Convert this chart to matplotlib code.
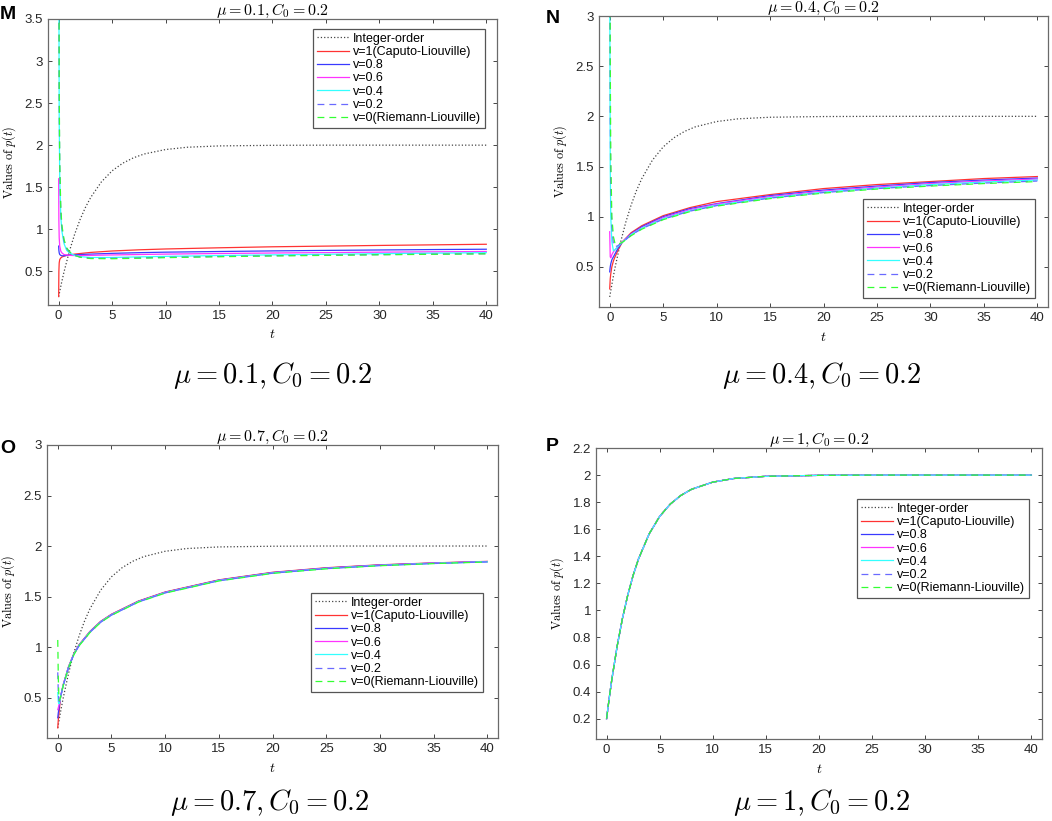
import matplotlib
matplotlib.use('Agg')
import matplotlib.pyplot as plt

plt.rcParams['font.family'] = ['Liberation Sans', 'DejaVu Sans']
plt.rcParams['mathtext.fontset'] = 'cm'

# integer-order solution (same in every panel)
t_int = [0, 0.25, 0.5, 1, 1.5, 2, 2.5, 3, 4, 5, 6, 7, 8, 10, 12, 15, 20, 25, 30, 35, 40]
p_int = [0.2, 0.353, 0.493, 0.738, 0.943, 1.115, 1.259, 1.379, 1.564, 1.695, 1.786,
         1.85, 1.895, 1.948, 1.975, 1.991, 1.998, 2.0, 2.0, 2.0, 2.0]

labels = ['Integer-order', 'v=1(Caputo-Liouville)', 'v=0.8', 'v=0.6', 'v=0.4',
          'v=0.2', 'v=0(Riemann-Liouville)']
panel_letters = ['M', 'N', 'O', 'P']
mu_values = ['0.1', '0.4', '0.7', '1']

# panel M: mu = 0.1
t_M = [0, 0.02, 0.05, 0.1, 0.2, 0.3, 0.5, 0.75, 1, 1.5, 2, 3, 5, 7.5, 10, 15, 20, 25, 30, 35, 40]
M_v1 = [0.2, 0.5, 0.6, 0.64, 0.66, 0.67, 0.68, 0.69, 0.695, 0.705, 0.712, 0.725, 0.742,
        0.756, 0.766, 0.78, 0.792, 0.80, 0.808, 0.815, 0.822]
M_v08 = [0.80, 0.75, 0.72, 0.70, 0.69, 0.685, 0.685, 0.69, 0.692, 0.696, 0.70, 0.705, 0.714,
         0.722, 0.728, 0.736, 0.743, 0.749, 0.754, 0.759, 0.763]
M_v06 = [1.6, 1.1, 0.9, 0.8, 0.74, 0.72, 0.70, 0.695, 0.69, 0.688, 0.688, 0.69, 0.695,
         0.70, 0.705, 0.712, 0.718, 0.723, 0.728, 0.732, 0.736]
M_v04 = [8.0, 4.0, 2.3, 1.6, 1.15, 0.98, 0.83, 0.75, 0.72, 0.69, 0.675, 0.665, 0.665,
         0.672, 0.678, 0.688, 0.696, 0.703, 0.71, 0.716, 0.722]
M_v02 = [9.0, 4.5, 2.5, 1.7, 1.2, 1.02, 0.86, 0.77, 0.73, 0.69, 0.67, 0.655, 0.655,
         0.66, 0.667, 0.677, 0.686, 0.693, 0.699, 0.705, 0.71]
M_v0 = [10.0, 5.0, 2.7, 1.8, 1.25, 1.05, 0.88, 0.78, 0.735, 0.69, 0.668, 0.652, 0.65,
        0.656, 0.663, 0.674, 0.683, 0.69, 0.697, 0.703, 0.708]

# panel N: mu = 0.4
t_N = [0, 0.05, 0.1, 0.2, 0.35, 0.5, 0.75, 1.2, 2, 3, 5, 7.5, 10, 15, 20, 25, 30, 35, 40]
N_v1 = [0.28, 0.38, 0.43, 0.5, 0.56, 0.6, 0.66, 0.75, 0.84, 0.91, 1.01, 1.09, 1.15,
        1.22, 1.28, 1.32, 1.35, 1.38, 1.40]
N_v08 = [0.45, 0.5, 0.53, 0.57, 0.6, 0.63, 0.68, 0.75, 0.83, 0.9, 1.0, 1.08, 1.13,
         1.21, 1.265, 1.305, 1.34, 1.365, 1.385]
N_v06 = [0.85, 0.6, 0.59, 0.62, 0.65, 0.67, 0.70, 0.75, 0.825, 0.89, 0.99, 1.07, 1.125,
         1.20, 1.255, 1.295, 1.33, 1.355, 1.375]
N_v04 = [3.5, 1.5, 1.0, 0.75, 0.66, 0.67, 0.70, 0.745, 0.82, 0.885, 0.98, 1.06, 1.115,
         1.19, 1.245, 1.285, 1.32, 1.345, 1.365]
N_v02 = [5.0, 2.0, 1.3, 0.9, 0.72, 0.70, 0.71, 0.745, 0.815, 0.88, 0.975, 1.055, 1.11,
         1.185, 1.24, 1.28, 1.31, 1.335, 1.355]
N_v0 = [6.0, 2.6, 1.6, 1.0, 0.8, 0.73, 0.725, 0.745, 0.81, 0.875, 0.97, 1.05, 1.105,
        1.18, 1.235, 1.275, 1.305, 1.33, 1.35]

# panel O: mu = 0.7
t_O = [0, 0.05, 0.1, 0.15, 0.25, 0.5, 1, 1.5, 2, 3, 4, 5, 7.5, 10, 15, 20, 25, 30, 35, 40]
O_v1 = [0.2, 0.28, 0.33, 0.38, 0.5, 0.625, 0.805, 0.935, 1.025, 1.155, 1.255, 1.325,
        1.455, 1.545, 1.665, 1.74, 1.785, 1.814, 1.833, 1.848]
O_v08 = [0.3, 0.35, 0.38, 0.42, 0.5, 0.622, 0.802, 0.932, 1.022, 1.152, 1.252, 1.322,
         1.452, 1.542, 1.662, 1.737, 1.782, 1.812, 1.831, 1.846]
O_v06 = [0.38, 0.4, 0.42, 0.44, 0.5, 0.62, 0.80, 0.93, 1.02, 1.15, 1.25, 1.32,
         1.45, 1.54, 1.66, 1.735, 1.78, 1.81, 1.83, 1.845]
O_v04 = [0.55, 0.46, 0.44, 0.45, 0.5, 0.618, 0.798, 0.928, 1.018, 1.148, 1.248, 1.318,
         1.448, 1.538, 1.658, 1.733, 1.778, 1.808, 1.828, 1.844]
O_v02 = [0.75, 0.55, 0.47, 0.46, 0.5, 0.616, 0.796, 0.926, 1.016, 1.146, 1.246, 1.316,
         1.446, 1.536, 1.656, 1.731, 1.776, 1.806, 1.827, 1.843]
O_v0 = [1.07, 0.7, 0.52, 0.47, 0.5, 0.614, 0.794, 0.924, 1.014, 1.144, 1.244, 1.314,
        1.444, 1.534, 1.654, 1.729, 1.774, 1.805, 1.826, 1.842]

# panel P: mu = 1, every fractional curve coincides with the integer-order one
t_P = t_int
P_curve = p_int

panel_t = [t_M, t_N, t_O, t_P]
panel_series = [
    [M_v1, M_v08, M_v06, M_v04, M_v02, M_v0],
    [N_v1, N_v08, N_v06, N_v04, N_v02, N_v0],
    [O_v1, O_v08, O_v06, O_v04, O_v02, O_v0],
    [P_curve] * 6,
]

styles = [('#ff3333', None), ('#3a3aff', None), ('#ff33ff', None), ('#33ffff', None),
          ('#6a6aff', (5.5, 4)), ('#33ff33', (5.5, 4))]

# layout (figure fractions)
ax_rects = [[0.0456, 0.6285, 0.4268, 0.3484],
            [0.5694, 0.6261, 0.4268, 0.3544],
            [0.0447, 0.1011, 0.4287, 0.3569],
            [0.5665, 0.0999, 0.4240, 0.3544]]
ylims = [(0.1, 3.5), (0.1, 3.0), (0.1, 3.0), (0.05, 2.2)]
yticks = [[0.5, 1, 1.5, 2, 2.5, 3, 3.5], [0.5, 1, 1.5, 2, 2.5, 3],
          [0.5, 1, 1.5, 2, 2.5, 3], [0.2, 0.4, 0.6, 0.8, 1, 1.2, 1.4, 1.6, 1.8, 2, 2.2]]
legend_anchor = [(0.2975, 0.9647), (0.8203, 0.7576), (0.2956, 0.2777), (0.8146, 0.3922)]
letter_pos = [(0.0, 0.993), (0.519, 0.988), (0.0, 0.464), (0.519, 0.466)]
caption_pos = [(0.259, 0.543), (0.781, 0.543), (0.256, 0.022), (0.781, 0.023)]

fig = plt.figure(figsize=(10.52, 8.21), dpi=100)

for i in range(4):
    ax = fig.add_axes(ax_rects[i])
    ax.plot(t_int, p_int, color='#444444', linestyle=':', linewidth=0.9, label=labels[0])
    for j, (c, d) in enumerate(styles):
        if d is None:
            ax.plot(panel_t[i], panel_series[i][j], color=c, linewidth=0.9,
                    label=labels[j + 1])
        else:
            ax.plot(panel_t[i], panel_series[i][j], color=c, linewidth=0.9, dashes=d,
                    label=labels[j + 1])
    ax.set_xlim(-1, 41)
    ax.set_ylim(*ylims[i])
    ax.set_xticks(range(0, 41, 5))
    ax.set_yticks(yticks[i])
    ax.set_yticklabels([('%g' % v) for v in yticks[i]])
    ax.tick_params(direction='in', top=True, right=True, labelsize=9.5,
                   colors='#262626', length=3, width=0.6)
    for s in ax.spines.values():
        s.set_color('#6a6a6a')
        s.set_linewidth(0.9)
    ax.set_title(r'$\mu = %s, C_0 = 0.2$' % mu_values[i], fontsize=11.5, pad=3)
    ax.set_ylabel(r'$\mathrm{Values\ of\ }p(t)$', fontsize=8.8)
    ax.yaxis.set_label_coords(-0.067, 0.5)
    ax.set_xlabel(r'$t$', fontsize=10)
    ax.xaxis.set_label_coords(0.5, -0.078)
    leg = ax.legend(loc='upper left', bbox_to_anchor=legend_anchor[i],
                    bbox_transform=fig.transFigure, fontsize=9, frameon=True,
                    fancybox=False, framealpha=1, edgecolor='#555555',
                    borderaxespad=0, borderpad=0.3, handlelength=2.6,
                    handletextpad=0.3, labelspacing=0.1)
    leg.get_frame().set_linewidth(0.9)
    fig.text(letter_pos[i][0], letter_pos[i][1], panel_letters[i], fontsize=14,
             fontweight='bold', va='top', ha='left')
    fig.text(caption_pos[i][0], caption_pos[i][1], r'$\mu = %s, C_0 = 0.2$' % mu_values[i],
             fontsize=20.5, ha='center', va='center')

fig.savefig('out.png', dpi=100)
